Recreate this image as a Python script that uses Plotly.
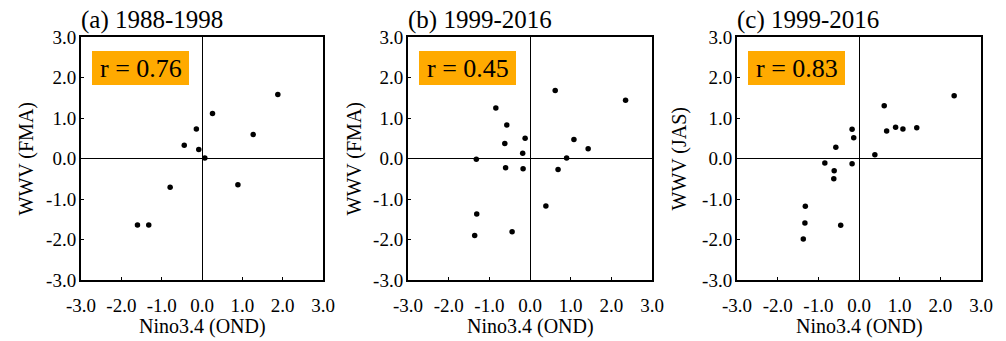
import plotly.graph_objects as go

# Panel (a) 1988-1998
nino_a = [1.88, 0.26, -0.14, -0.44, -0.08, 0.07, 1.27, 0.89, -0.79, -1.60, -1.32]
wwv_a = [1.58, 1.11, 0.73, 0.33, 0.22, 0.01, 0.59, -0.65, -0.71, -1.64, -1.64]

# Panel (b) 1999-2016, WWV (FMA)
nino_b = [0.62, 2.35, -0.84, -0.57, -0.12, -0.62, 1.08, -0.18, 1.43, 0.90,
          -1.32, -0.60, -0.17, 0.69, 0.39, -1.31, -0.44, -1.36]
wwv_b = [1.68, 1.44, 1.25, 0.83, 0.50, 0.37, 0.47, 0.13, 0.24, 0.01,
         -0.02, -0.23, -0.25, -0.27, -1.17, -1.37, -1.81, -1.90]

# Panel (c) 1999-2016, WWV (JAS)
nino_c = [2.34, 0.62, 0.90, 1.08, 1.42, 0.68, -0.17, -0.13, -0.57, 0.39,
          -0.84, -0.17, -0.61, -0.62, -1.32, -1.33, -0.45, -1.37]
wwv_c = [1.55, 1.30, 0.77, 0.73, 0.76, 0.68, 0.72, 0.51, 0.28, 0.09,
         -0.11, -0.13, -0.30, -0.50, -1.18, -1.59, -1.65, -1.99]

titles = ["(a) 1988-1998", "(b) 1999-2016", "(c) 1999-2016"]
r_labels = ["r = 0.76", "r = 0.45", "r = 0.83"]
y_titles = ["WWV (FMA)", "WWV (FMA)", "WWV (JAS)"]
x_title = "Nino3.4 (OND)"
tick_vals = [-3, -2, -1, 0, 1, 2, 3]
tick_text = ["-3.0", "-2.0", "-1.0", "0.0", "1.0", "2.0", "3.0"]

W, H = 1006, 341
FONT = "Liberation Serif, Times New Roman, serif"

panels_x = [(81, 323), (408, 652), (737, 981)]
ytitle_off = [55, 54, 58]
top_px, bot_px = 37, 280
ydom = [(H - bot_px) / H, (H - top_px) / H]

data = [(nino_a, wwv_a), (nino_b, wwv_b), (nino_c, wwv_c)]

fig = go.Figure()
layout = dict(
    template="none",
    width=W, height=H, autosize=False,
    margin=dict(l=0, r=0, t=0, b=0, pad=0, autoexpand=False),
    paper_bgcolor="white", plot_bgcolor="white",
    showlegend=False,
    font=dict(family=FONT, color="black"),
)
annotations = []
shapes = []
for i, ((xs, ys), (x0, x1)) in enumerate(zip(data, panels_x)):
    sfx = "" if i == 0 else str(i + 1)
    fig.add_trace(go.Scatter(
        x=xs, y=ys, mode="markers",
        marker=dict(color="black", size=5.5),
        xaxis="x" + sfx, yaxis="y" + sfx,
        hoverinfo="x+y",
    ))
    axcommon = dict(
        range=[-3, 3], tickvals=tick_vals, ticktext=tick_text,
        ticks="inside", ticklen=3, tickwidth=1, tickcolor="black",
        showline=True, linecolor="black", linewidth=2, mirror=True,
        showgrid=False, zeroline=True, zerolinecolor="black", zerolinewidth=1,
        tickfont=dict(family=FONT, size=19, color="black"),
        fixedrange=True, automargin=False,
    )
    layout["xaxis" + sfx] = dict(axcommon, domain=[x0 / W, x1 / W],
                                 anchor="y" + sfx, ticklabelstandoff=7)
    layout["yaxis" + sfx] = dict(axcommon, domain=ydom, anchor="x" + sfx,
                                 ticklabelstandoff=-1)
    xr = "x" + sfx + " domain"
    yr = "y" + sfx + " domain"
    pw = x1 - x0
    ph = bot_px - top_px
    # orange r box
    shapes.append(dict(type="rect", xref=xr, yref=yr,
                       x0=11 / pw, x1=108 / pw,
                       y0=1 - 48 / ph, y1=1 - 14 / ph,
                       fillcolor="#FFAA00", line=dict(width=0), layer="below"))
    annotations.append(dict(xref=xr, yref=yr, x=59.5 / pw, y=1 - 31 / ph,
                            text=r_labels[i], showarrow=False,
                            xanchor="center", yanchor="middle",
                            font=dict(family=FONT, size=26, color="black")))
    # panel title
    annotations.append(dict(xref=xr, yref="paper", x=0, y=(H - 20) / H,
                            text=titles[i], showarrow=False,
                            xanchor="left", yanchor="middle", xshift=-2,
                            font=dict(family=FONT, size=25, color="black")))
    # x axis title
    annotations.append(dict(xref=xr, yref="paper", x=0.5, y=(H - 326) / H,
                            text=x_title, showarrow=False,
                            xanchor="center", yanchor="middle",
                            font=dict(family=FONT, size=20, color="black")))
    # y axis title
    annotations.append(dict(xref=xr, yref=yr, x=0, y=0.5, xshift=-ytitle_off[i],
                            text=y_titles[i], showarrow=False, textangle=-90,
                            xanchor="center", yanchor="middle",
                            font=dict(family=FONT, size=20, color="black")))

layout["annotations"] = annotations
layout["shapes"] = shapes
fig.update_layout(**layout)
fig.write_html("out.html")
